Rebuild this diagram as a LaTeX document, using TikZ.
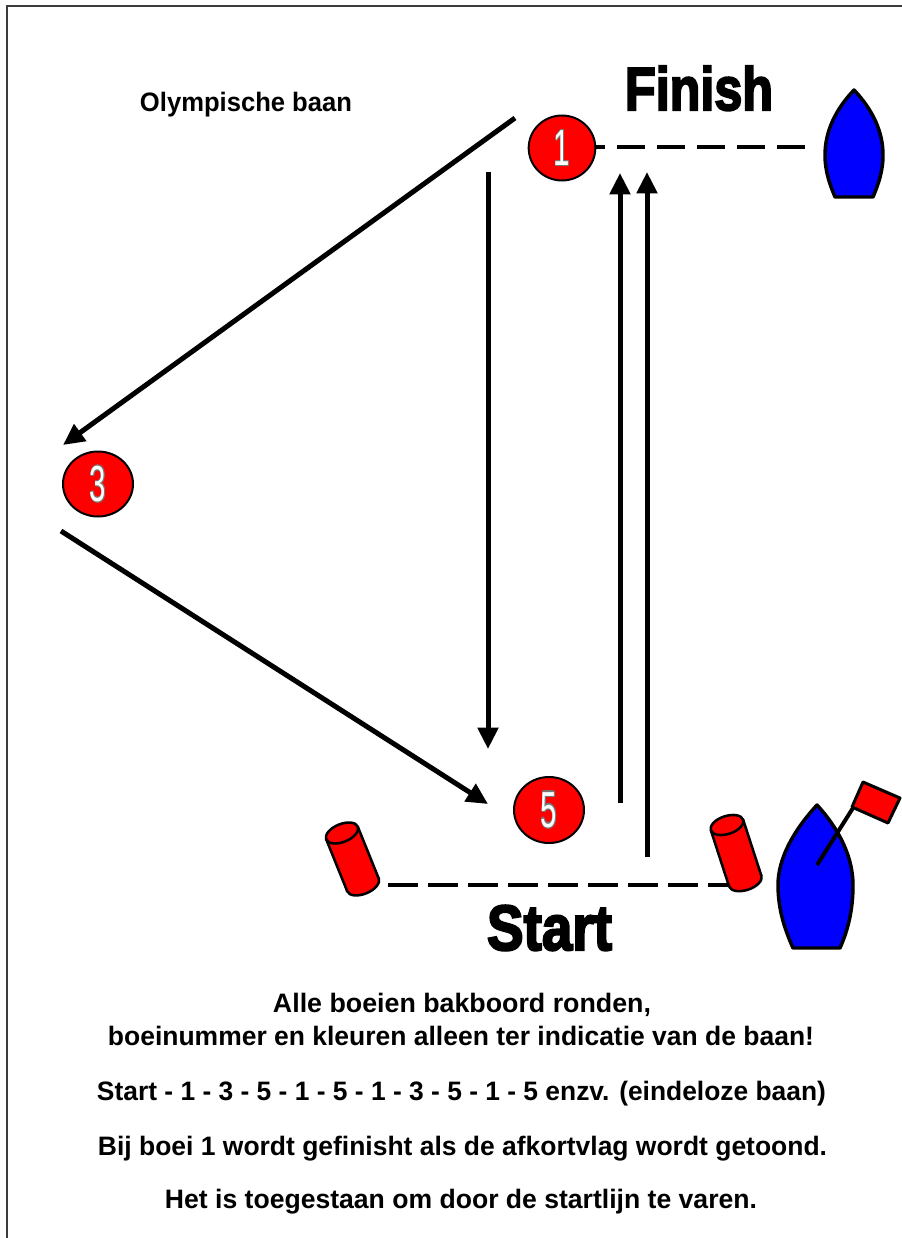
\documentclass[tikz,border=0pt]{standalone}
\usepackage{fontspec}
\setmainfont{Liberation Sans}
\newfontfamily\impactfont{Liberation Sans}[FakeBold=3.5]
\usetikzlibrary{arrows.meta,shapes.geometric}
\definecolor{buoyred}{RGB}{255,0,0}
\definecolor{boatblue}{RGB}{0,0,255}
\definecolor{numgray}{RGB}{120,120,120}
\definecolor{framegray}{RGB}{60,60,60}
\newcommand\outl[1]{{\color{numgray}\rlap{\kern-1pt#1}\rlap{\kern1pt#1}\rlap{\raisebox{1pt}{#1}}\rlap{\raisebox{-1pt}{#1}}\rlap{\kern-0.7pt\raisebox{0.7pt}{#1}}\rlap{\kern0.7pt\raisebox{0.7pt}{#1}}\rlap{\kern-0.7pt\raisebox{-0.7pt}{#1}}\rlap{\kern0.7pt\raisebox{-0.7pt}{#1}}}{\color{white}#1}}
\newcommand\bnum[1]{\scalebox{0.58}[1]{\fontsize{38}{38}\selectfont\outl{#1}}}
\newcommand\mycyl[4]{%
\begin{scope}[shift={(#1,#2)},rotate=#3]
\filldraw[cylstyle] (0,#4) ellipse [x radius=17, y radius=9];
\fill[buoyred] (-17,0) rectangle (17,#4);
\draw[cylline] (-17,0) -- (-17,#4) (17,0) -- (17,#4);
\filldraw[cylstyle] (0,0) ellipse [x radius=17, y radius=9];
\end{scope}}
\tikzset{
  buoy/.style={ellipse, fill=buoyred, draw=black, line width=1.5pt, inner sep=0pt},
  course/.style={line width=3.75pt, -{Triangle[length=16pt,width=15pt]}},
  dashline/.style={line width=3pt},
  boatstyle/.style={fill=boatblue, draw=black, line width=2.6pt, line join=round},
  cylstyle/.style={fill=buoyred, draw=black, line width=1.9pt},
  cylline/.style={draw=black, line width=1.9pt},
  txt/.style={inner sep=0pt, anchor=base, font=\bfseries\fontsize{20}{22}\selectfont},
  bigtxt/.style={inner sep=0pt, anchor=base, font=\impactfont\bfseries\fontsize{44}{44}\selectfont}
}
\begin{document}
\begin{tikzpicture}[x=0.75pt,y=-0.75pt]
\useasboundingbox (0,0) rectangle (901,1238);
% frame
\draw[framegray, line width=1.5pt] (7,1240) -- (7,6) -- (903,6);
% finish line
\coordinate (finend) at (807,147);
\coordinate (b1c) at (562,147);
\draw[dashline, dash pattern=on 21pt off 9pt, dash phase=18.75pt] (b1c) -- (finend);
% start line
\coordinate (stA) at (388,885);
\coordinate (stB) at (738,885);
\draw[dashline, dash pattern=on 22.5pt off 7.5pt] (stA) -- (stB);
% buoys
\node[buoy, minimum width=50pt, minimum height=48.75pt] (b1) at (562,148) {\bnum{1}};
\node[buoy, minimum width=52.5pt, minimum height=48.75pt] (b3) at (98,484) {\bnum{3}};
\node[buoy, minimum width=52.5pt, minimum height=49.5pt] (b5) at (549,810) {\bnum{5}};
% course arrows
\coordinate (a13s) at (515,118); \coordinate (a13e) at (63,445);
\coordinate (a15s) at (488,172); \coordinate (a15e) at (488,749);
\coordinate (a35s) at (61,531);  \coordinate (a35e) at (488,804);
\coordinate (u1s) at (620,803);  \coordinate (u1e) at (620,173);
\coordinate (u2s) at (647,857);  \coordinate (u2e) at (647,172);
\draw[course] (a13s) -- (a13e);
\draw[course] (a15s) -- (a15e);
\draw[course] (a35s) -- (a35e);
\draw[course] (u1s) -- (u1e);
\draw[course] (u2s) -- (u2e);
% finish boat
\draw[boatstyle] (854,90) .. controls (835,110) and (825,132) .. (825,155)
  .. controls (825,172) and (830,185) .. (835,197) -- (873,197)
  .. controls (878,185) and (883,172) .. (883,155)
  .. controls (883,132) and (873,110) .. (854,90) -- cycle;
% start boat
\draw[boatstyle] (817,805) .. controls (794,830) and (778,858) .. (778,885)
  .. controls (778,910) and (785,930) .. (793,948) -- (840,948)
  .. controls (848,930) and (853,910) .. (853,885)
  .. controls (853,858) and (840,830) .. (817,805) -- cycle;
\coordinate (mastlow) at (817,865);
\coordinate (masttop) at (858,800);
\draw[line width=3pt] (mastlow) -- (masttop);
\draw[fill=buoyred, draw=black, line width=2.25pt, line join=round] (863,782) -- (900,798) -- (888,823) -- (852,807) -- cycle;
% start cylinders
\mycyl{342}{833}{22}{56}
\mycyl{727}{825}{18}{59}
% titles
\node[bigtxt] (finish) at (699,110) {\resizebox{111pt}{33pt}{Finish}};
\node[bigtxt] (start) at (549.5,950) {\resizebox{93.75pt}{33.5pt}{Start}};
\node[txt] (title) at (246,112) {\resizebox{159pt}{\height}{Olympische baan}};
\node[txt] (l1) at (462,1012) {\resizebox{283.5pt}{\height}{Alle boeien bakboord ronden,}};
\node[txt] (l2) at (461,1045) {\resizebox{529.5pt}{\height}{boeinummer en kleuren alleen ter indicatie van de baan!}};
\node[txt] (l3) at (461.5,1100) {\resizebox{546.75pt}{\height}{Start - 1 - 3 - 5 - 1 - 5 - 1 - 3 - 5 - 1 - 5 enzv. (eindeloze baan)}};
\node[txt] (l4) at (462.5,1155) {\resizebox{546.75pt}{\height}{Bij boei 1 wordt gefinisht als de afkortvlag wordt getoond.}};
\node[txt] (l5) at (461,1208) {\resizebox{444pt}{\height}{Het is toegestaan om door de startlijn te varen.}};
\end{tikzpicture}
\end{document}
